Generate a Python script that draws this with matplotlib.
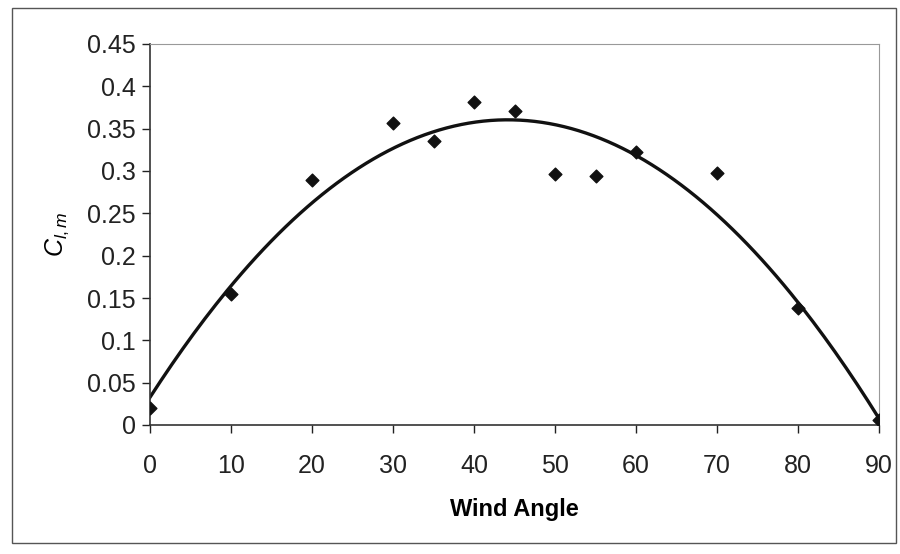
import matplotlib.pyplot as plt
import numpy as np
from matplotlib.patches import Rectangle

# data
wind_angle = [0, 10, 20, 30, 35, 40, 45, 50, 55, 60, 70, 80, 90]
cl_m = [0.020, 0.155, 0.289, 0.357, 0.336, 0.381, 0.371, 0.297, 0.294, 0.323, 0.298, 0.138, 0.006]

x_ticks = [0, 10, 20, 30, 40, 50, 60, 70, 80, 90]
y_ticks = [0, 0.05, 0.1, 0.15, 0.2, 0.25, 0.3, 0.35, 0.4, 0.45]

plt.rcParams['font.family'] = ['Liberation Sans', 'DejaVu Sans']
plt.rcParams['mathtext.fontset'] = 'custom'
plt.rcParams['mathtext.it'] = 'Liberation Sans:italic'
plt.rcParams['mathtext.rm'] = 'Liberation Sans'

fig = plt.figure(figsize=(9, 5.54), dpi=100)
ax = fig.add_axes([150 / 900, 1 - 425 / 554, 729 / 900, 381 / 554])

# outer chart frame
fig.patches.append(Rectangle((0.013, 0.02), 0.982, 0.966, transform=fig.transFigure,
                             fill=False, edgecolor='#555555', linewidth=1.0))

# 2nd order polynomial trendline
coef = np.polyfit(wind_angle, cl_m, 2)
xs = np.linspace(0, 90, 200)
ax.plot(xs, np.polyval(coef, xs), color='#111111', linewidth=2.4, zorder=2)

ax.scatter(wind_angle, cl_m, marker='D', s=42, color='#111111', zorder=3)

ax.set_xlim(0, 90)
ax.set_ylim(0, 0.45)
ax.set_xticks(x_ticks)
ax.set_yticks(y_ticks)
ax.set_xticklabels([str(v) for v in x_ticks])
ax.set_yticklabels(['0', '0.05', '0.1', '0.15', '0.2', '0.25', '0.3', '0.35', '0.4', '0.45'])
ax.tick_params(direction='out', length=6, width=1, labelsize=18, colors='#222222', pad=4)
ax.tick_params(axis='x', pad=15)

for side in ['left', 'bottom']:
    ax.spines[side].set_color('#333333')
    ax.spines[side].set_linewidth(1.2)
for side in ['top', 'right']:
    ax.spines[side].set_color('#999999')
    ax.spines[side].set_linewidth(0.8)

ax.set_xlabel('Wind Angle', fontsize=17, fontweight='bold', labelpad=14)
ax.set_ylabel(r'$C_{l,m}$', fontsize=18, labelpad=12)

fig.savefig('out.png', dpi=100)
